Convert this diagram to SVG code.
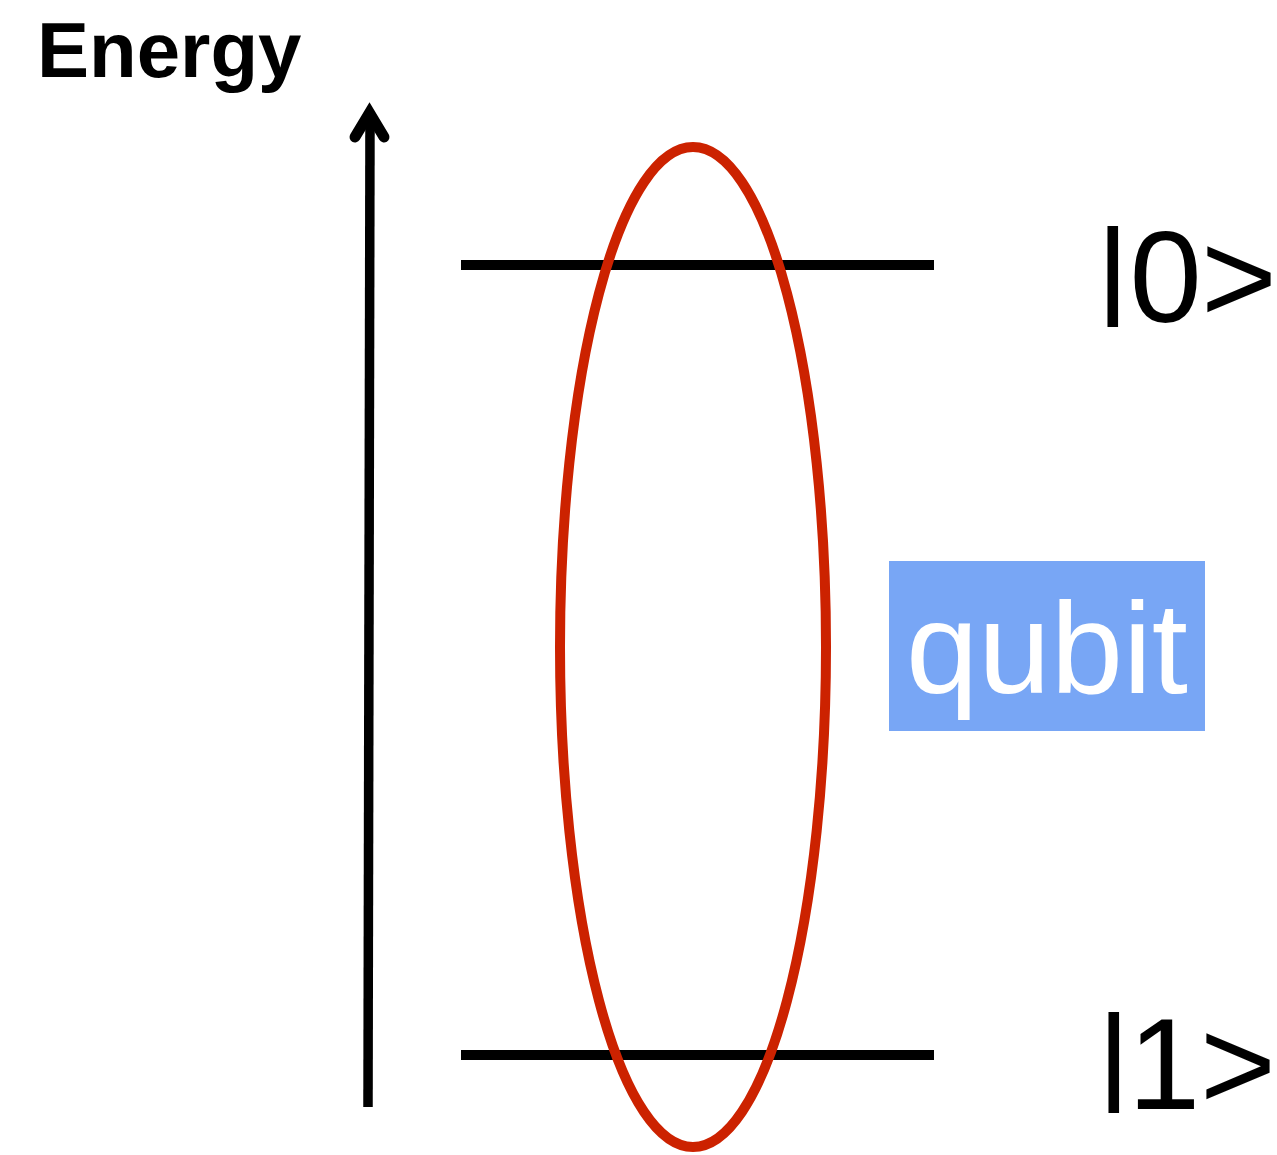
<svg xmlns="http://www.w3.org/2000/svg" width="1277" height="1155" viewBox="0 0 1277 1155">
<style>
.lvl{stroke:#000;stroke-width:10;fill:none}
.ket{font-family:"Liberation Sans",Arial,sans-serif;font-size:130px;fill:#000}
.bar{font-size:106px;stroke:#000;stroke-width:2}
</style>
<rect width="1277" height="1155" fill="#fff"/>
<g id="axis">
<text x="37" y="77" font-family="Liberation Sans,Arial,sans-serif" font-weight="bold" font-size="78" fill="#000">Energy</text>
<line x1="368" y1="1107" x2="370" y2="120" stroke="#000" stroke-width="9.5"/>
<polyline points="355,137 369.5,113 384,137" fill="none" stroke="#000" stroke-width="11" stroke-linecap="round" stroke-linejoin="miter"/>
</g>
<g id="connectors">
<line class="lvl" x1="461" y1="265" x2="934" y2="265"/>
<line class="lvl" x1="461" y1="1055" x2="934" y2="1055"/>
</g>
<g id="ket0">
<text class="ket"><tspan class="bar" x="1099" y="304">|</tspan><tspan x="1129.5" y="322">0</tspan><tspan x="1201" y="322">&gt;</tspan></text>
</g>
<g id="ket1">
<text class="ket"><tspan class="bar" x="1100" y="1090">|</tspan><tspan x="1128" y="1109">1</tspan><tspan x="1200" y="1109">&gt;</tspan></text>
</g>
<g id="qubit-ellipse">
<ellipse cx="693" cy="647" rx="133" ry="500" fill="none" stroke="#CC2200" stroke-width="10"/>
</g>
<g id="qubit">
<rect x="889" y="561" width="316" height="170" fill="#78A6F5"/>
<text x="1047" y="693" text-anchor="middle" font-family="Liberation Sans,Arial,sans-serif" font-size="130" fill="#fff">qubit</text>
</g>
</svg>
